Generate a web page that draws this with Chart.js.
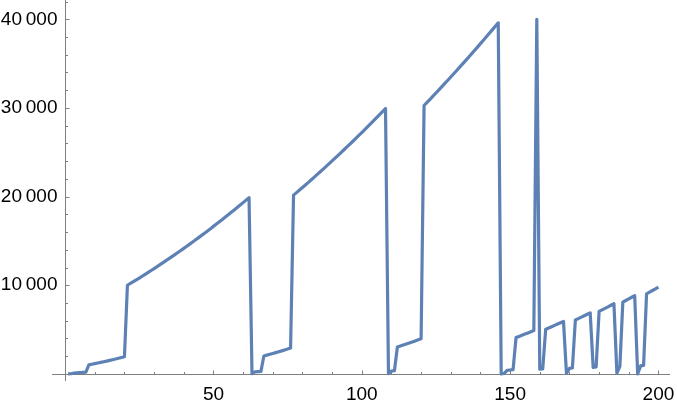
<!DOCTYPE html>
<html>
<head>
<meta charset="utf-8">
<script src="https://cdn.jsdelivr.net/npm/chart.js@4.4.1/dist/chart.umd.min.js"></script>
<style>
  html, body { margin: 0; padding: 0; background: #fff; }
  canvas { display: block; }
</style>
</head>
<body>
<canvas id="chart" width="677" height="407"></canvas>
<script>
// squares 1..200^2, grouped by their leading digit (in the order plotted)
const LEAD_1 = [1, 16, 100, 121, 144, 169, 196, 1024, 1089, 1156, 1225, 1296, 1369, 1444, 1521, 1600, 1681, 1764, 1849, 1936,
  10000, 10201, 10404, 10609, 10816, 11025, 11236, 11449, 11664, 11881, 12100, 12321, 12544, 12769, 12996, 13225, 13456,
  13689, 13924, 14161, 14400, 14641, 14884, 15129, 15376, 15625, 15876, 16129, 16384, 16641, 16900, 17161, 17424, 17689,
  17956, 18225, 18496, 18769, 19044, 19321, 19600, 19881];
const LEAD_2 = [25, 225, 256, 289, 2025, 2116, 2209, 2304, 2401, 2500, 2601, 2704, 2809, 2916,
  20164, 20449, 20736, 21025, 21316, 21609, 21904, 22201, 22500, 22801, 23104, 23409, 23716, 24025, 24336, 24649, 24964,
  25281, 25600, 25921, 26244, 26569, 26896, 27225, 27556, 27889, 28224, 28561, 28900, 29241, 29584, 29929];
const LEAD_3 = [36, 324, 361, 3025, 3136, 3249, 3364, 3481, 3600, 3721, 3844, 3969,
  30276, 30625, 30976, 31329, 31684, 32041, 32400, 32761, 33124, 33489, 33856, 34225, 34596, 34969, 35344, 35721, 36100,
  36481, 36864, 37249, 37636, 38025, 38416, 38809, 39204, 39601];
const LEAD_4 = [4, 49, 400, 441, 484, 4096, 4225, 4356, 4489, 4624, 4761, 4900, 40000];
const LEAD_5 = [529, 576, 5041, 5184, 5329, 5476, 5625, 5776, 5929];
const LEAD_6 = [64, 625, 676, 6084, 6241, 6400, 6561, 6724, 6889];
const LEAD_7 = [729, 784, 7056, 7225, 7396, 7569, 7744, 7921];
const LEAD_8 = [81, 841, 8100, 8281, 8464, 8649, 8836];
const LEAD_9 = [9, 900, 961, 9025, 9216, 9409, 9604, 9801];

const X_TICKS = [50, 100, 150, 200];
const X_MINOR = [10, 20, 30, 40, 60, 70, 80, 90, 110, 120, 130, 140, 160, 170, 180, 190];
const Y_TICKS = [10000, 20000, 30000, 40000];
const Y_MINOR = [2000, 4000, 6000, 8000, 12000, 14000, 16000, 18000, 22000, 24000, 26000, 28000,
  32000, 34000, 36000, 38000, 42000];

const LINE_COLOR = '#5e81b5';
const AXIS_COLOR = '#7f7f7f';
const TICK_FONT = {family: '"Liberation Sans", Arial, sans-serif', size: 19};
const X_AXIS_START = -4.4;   // x axis line runs a bit left of the y axis

const values = [...LEAD_1, ...LEAD_2, ...LEAD_3, ...LEAD_4, ...LEAD_5, ...LEAD_6, ...LEAD_7, ...LEAD_8, ...LEAD_9];
const points = values.map((v, i) => ({x: i + 1, y: v}));

// mathematica style: small gap between digit blocks
function fmt(v) {
    const s = String(v);
    return s.length > 4 ? s.replace(/(\d)(?=(\d{3})+$)/g, '$1\u2009') : s;
}

// axes through the origin with inward ticks
const originAxes = {
    id: 'originAxes',
    beforeDatasetsDraw(chart) {
        const {ctx, chartArea, scales: {x, y}} = chart;
        const x0 = Math.round(x.getPixelForValue(0)) + 0.5;
        const y0 = Math.round(y.getPixelForValue(0)) + 0.5;
        ctx.save();
        ctx.strokeStyle = AXIS_COLOR;
        ctx.lineWidth = 1;
        ctx.beginPath();
        ctx.moveTo(x.getPixelForValue(X_AXIS_START), y0);
        ctx.lineTo(chartArea.right, y0);
        ctx.moveTo(x0, chartArea.top);
        ctx.lineTo(x0, chartArea.bottom);
        X_TICKS.forEach(v => { const p = Math.round(x.getPixelForValue(v)) + 0.5; ctx.moveTo(p, y0); ctx.lineTo(p, y0 - 4); });
        X_MINOR.forEach(v => { const p = Math.round(x.getPixelForValue(v)) + 0.5; ctx.moveTo(p, y0); ctx.lineTo(p, y0 - 2.5); });
        Y_TICKS.forEach(v => { const p = Math.round(y.getPixelForValue(v)) + 0.5; ctx.moveTo(x0, p); ctx.lineTo(x0 + 4, p); });
        Y_MINOR.forEach(v => { const p = Math.round(y.getPixelForValue(v)) + 0.5; ctx.moveTo(x0, p); ctx.lineTo(x0 + 2.5, p); });
        ctx.stroke();
        ctx.restore();
    }
};

new Chart(document.getElementById('chart').getContext('2d'), {
    type: 'line',
    data: {
        datasets: [{
            data: points,
            borderColor: LINE_COLOR,
            borderWidth: 3.2,
            borderJoinStyle: 'round',
            pointRadius: 0,
            tension: 0,
            fill: false
        }]
    },
    options: {
        responsive: false,
        animation: false,
        devicePixelRatio: 1,
        layout: {padding: {left: 0, right: 7, top: 0, bottom: 0}},
        plugins: {legend: {display: false}, tooltip: {enabled: false}},
        scales: {
            x: {
                type: 'linear',
                min: -2.4,
                max: 203.9,
                grid: {display: false, drawTicks: false},
                border: {display: false},
                ticks: {padding: 2, color: '#000', font: TICK_FONT, maxRotation: 0, autoSkip: false, callback: fmt},
                afterBuildTicks: s => { s.ticks = X_TICKS.map(v => ({value: v})); },
                afterFit: s => { s.height = 26; s.paddingLeft = 0; s.paddingRight = 0; }
            },
            y: {
                type: 'linear',
                min: -800,
                max: 42175,
                grid: {display: false, drawTicks: false},
                border: {display: false},
                ticks: {padding: 0.5, color: '#000', font: TICK_FONT, autoSkip: false, callback: fmt},
                afterBuildTicks: s => { s.ticks = Y_TICKS.map(v => ({value: v})); },
                afterFit: s => { s.width = 58; s.paddingTop = 0; s.paddingBottom = 0; }
            }
        }
    },
    plugins: [originAxes]
});
</script>
</body>
</html>
